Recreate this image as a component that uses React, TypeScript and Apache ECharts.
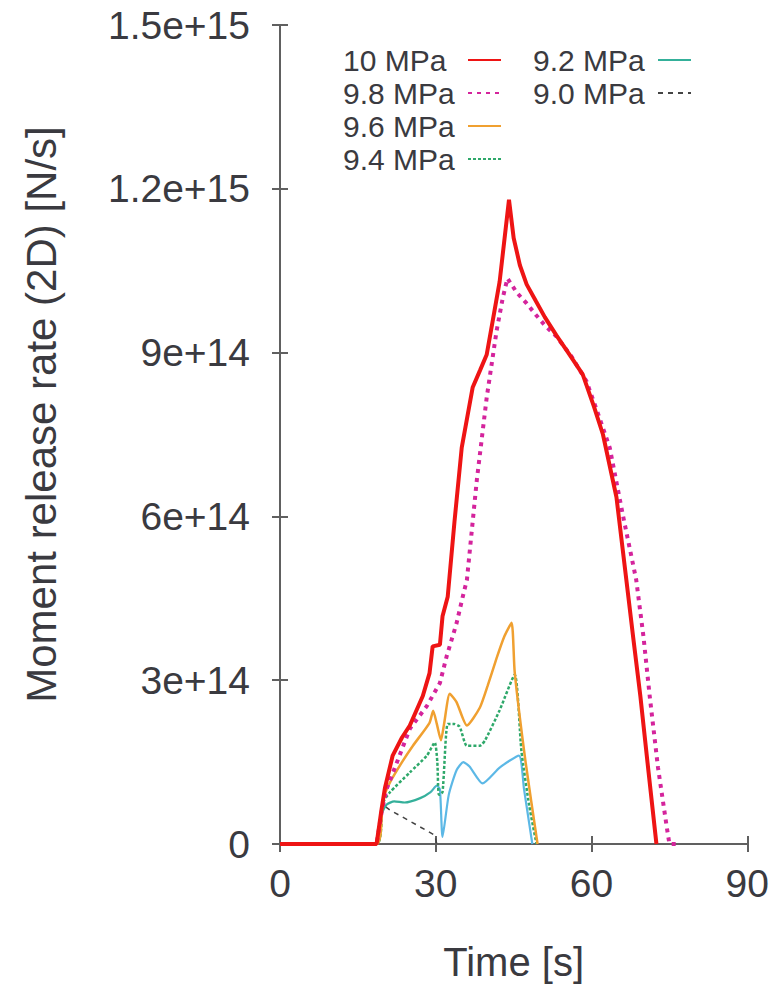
import React, { useEffect, useRef } from "react";
import * as echarts from "echarts";

// Time axis [s]
const xTickLabels = ["0", "30", "60", "90"];
// Moment release rate tick labels (values are multiples of 3e14)
const yTickLabels = ["0", "3e+14", "6e+14", "9e+14", "1.2e+15", "1.5e+15"];

const seriesNames = ["10 MPa", "9.8 MPa", "9.6 MPa", "9.4 MPa", "9.2 MPa", "9.0 MPa"];

// Values in units of 1e14 N/s
const t10 = [0, 18.6, 19.5, 20.2, 21.7, 23.5, 25, 27.5, 28.8, 29.4, 30.8, 31.3, 32.3, 33.6, 35, 37.1, 38.5, 39.8, 41, 42.3, 44.1, 45, 46.2, 47.5, 49.3, 51, 53.2, 55.5, 58.3, 60.5, 62.2, 64.8, 66.7, 68, 69.4, 71, 72.5];
const v10 = [0, 0, 0.6, 1.02, 1.62, 1.95, 2.17, 2.71, 3.13, 3.62, 3.65, 4.17, 4.53, 5.9, 7.26, 8.36, 8.67, 8.96, 9.6, 10.3, 11.8, 11.1, 10.6, 10.25, 9.94, 9.65, 9.32, 9.0, 8.6, 8.0, 7.5, 6.35, 4.84, 3.8, 2.71, 1.3, 0];

const t98 = [0, 18.6, 19.6, 20.5, 22.5, 25, 28.3, 30.8, 32.1, 34, 35.2, 36, 37.9, 39.8, 41.7, 42.9, 43.8, 45.6, 47.5, 49.3, 51, 53.2, 56, 59, 61, 63.5, 66, 68.6, 70, 71.2, 72.8, 74.5, 75, 77];
const v98 = [0, 0, 0.6, 1.0, 1.49, 2.11, 2.53, 2.95, 3.44, 4.04, 4.53, 4.84, 6.66, 8.17, 9.39, 10.0, 10.36, 10.1, 9.9, 9.69, 9.5, 9.3, 8.95, 8.48, 7.95, 7.26, 6.04, 4.84, 3.8, 2.71, 1.4, 0.3, 0, 0];

const t96 = [0, 18.6, 19.8, 21.2, 23.5, 25.6, 28.8, 29.5, 30.2, 31, 31.6, 32.7, 34, 36, 38.5, 40, 41.7, 43.2, 44.6, 45.2, 47.3, 49.6];
const v96 = [0, 0, 0.8, 1.13, 1.5, 1.8, 2.22, 2.44, 2.2, 1.9, 2.2, 2.75, 2.6, 2.17, 2.5, 2.9, 3.4, 3.8, 4.05, 3.15, 1.5, 0];

const t94 = [0, 18.6, 19.8, 21.2, 25, 28.3, 29.8, 30.3, 30.6, 31.3, 32.3, 33.5, 34.6, 36, 38.5, 39.5, 42.3, 45.2, 46.5, 48, 49.4];
const v94 = [0, 0, 0.75, 0.95, 1.31, 1.62, 1.86, 1.5, 0.9, 0.95, 2.2, 2.2, 2.15, 1.8, 1.8, 1.9, 2.45, 3.1, 1.7, 0.7, 0];

const t92 = [0, 18.6, 19.6, 20.5, 22, 24, 27, 29, 30.2, 30.8, 31.3, 32.5, 34, 35.3, 36.5, 39, 42.3, 46, 47, 48.6];
const v92 = [0, 0, 0.55, 0.72, 0.78, 0.76, 0.84, 0.95, 1.07, 1.0, 0.13, 0.9, 1.35, 1.5, 1.42, 1.11, 1.4, 1.62, 1.0, 0];

const t90 = [0, 18.6, 19.8, 21.2, 25, 29.8, 30.2];
const v90 = [0, 0, 0.72, 0.62, 0.42, 0.16, 0];

const UNIT = 1e14;
const toData = (t: number[], v: number[]) => t.map((x, i) => [x, v[i] * UNIT]);

export default function App() {
  const ref = useRef<HTMLDivElement>(null);

  useEffect(() => {
    if (!ref.current) return;
    const chart = echarts.init(ref.current, undefined, { renderer: "svg" });
    const textColor = "#3a3a40";
    const axisColor = "#606060";
    const font = "Liberation Sans, Arial, sans-serif";

    const grad92 = new echarts.graphic.LinearGradient(0, 0, 1, 0, [
      { offset: 0, color: "#34b09a" },
      { offset: 0.58, color: "#34b09a" },
      { offset: 0.64, color: "#5cb8e6" },
      { offset: 1, color: "#5cb8e6" },
    ]);

    const legendRich = {
      a: { width: 120, align: "left", fontSize: 30, lineHeight: 30, color: textColor, fontFamily: font },
    };

    const legendCommon = {
      orient: "vertical",
      align: "right",
      top: 45,
      padding: 0,
      itemWidth: 33,
      itemHeight: 14,
      itemGap: 3,
      selectedMode: false,
      itemStyle: { opacity: 0 },
      formatter: (n: string) => `{a|${n}}`,
      textStyle: { rich: legendRich },
    };

    const option: any = {
      animation: false,
      backgroundColor: "#ffffff",
      grid: { left: 280, right: 24, top: 25, bottom: 138, containLabel: false },
      legend: [
        {
          ...legendCommon,
          data: seriesNames.slice(0, 4).map((n) => ({ name: n })),
          left: 343,
        },
        {
          ...legendCommon,
          data: [
            { name: seriesNames[4], lineStyle: { color: "#34b09a" } },
            { name: seriesNames[5] },
          ],
          left: 533,
        },
      ],
      xAxis: [
        {
          type: "value",
          min: 0,
          max: 90,
          interval: 30,
          name: "Time [s]",
          nameLocation: "middle",
          nameGap: 98,
          nameTextStyle: { fontSize: 40, color: textColor, fontFamily: font },
          axisLine: { show: true, lineStyle: { color: axisColor, width: 2 } },
          axisTick: { show: true, inside: true, length: 8, lineStyle: { color: axisColor, width: 2 } },
          axisLabel: {
            margin: 20,
            fontSize: 39,
            color: textColor,
            fontFamily: font,
            formatter: (v: number) => xTickLabels[Math.round(v / 30)] ?? "",
          },
          splitLine: { show: false },
        },
        {
          type: "value",
          position: "top",
          min: 0,
          max: 90,
          interval: 30,
          axisLine: { show: true, lineStyle: { color: axisColor, width: 2 } },
          axisTick: { show: true, inside: true, length: 8, lineStyle: { color: axisColor, width: 2 } },
          axisLabel: { show: false },
          splitLine: { show: false },
        },
      ],
      yAxis: [
        {
          type: "value",
          min: 0,
          max: 1.5e15,
          interval: 3e14,
          name: "Moment release rate (2D) [N/s]",
          nameLocation: "middle",
          nameGap: 218,
          nameTextStyle: { fontSize: 42, color: textColor, fontFamily: font, padding: [0, 0, 0, 40] },
          axisLine: { show: true, lineStyle: { color: axisColor, width: 2 } },
          axisTick: { show: true, inside: true, length: 8, lineStyle: { color: axisColor, width: 2 } },
          axisLabel: {
            margin: 30,
            fontSize: 39,
            color: textColor,
            fontFamily: font,
            formatter: (v: number) => yTickLabels[Math.round(v / 3e14)] ?? "",
          },
          splitLine: { show: false },
        },
        {
          type: "value",
          position: "right",
          min: 0,
          max: 1.5e15,
          interval: 3e14,
          axisLine: { show: true, lineStyle: { color: axisColor, width: 2 } },
          axisTick: { show: true, inside: true, length: 8, lineStyle: { color: axisColor, width: 2 } },
          axisLabel: { show: false },
          splitLine: { show: false },
        },
      ],
      series: [
        {
          name: seriesNames[5],
          type: "line",
          data: toData(t90, v90),
          showSymbol: false,
          symbol: "none",
          z: 2,
          itemStyle: { color: "#444444" },
          lineStyle: { color: "#444444", width: 1.5, type: [5, 5] },
        },
        {
          name: seriesNames[4],
          type: "line",
          data: toData(t92, v92),
          showSymbol: false,
          symbol: "none",
          smooth: 0.2,
          z: 3,
          itemStyle: { color: "#34b09a" },
          lineStyle: { color: grad92, width: 2.2 },
        },
        {
          name: seriesNames[3],
          type: "line",
          data: toData(t94, v94),
          showSymbol: false,
          symbol: "none",
          smooth: 0.2,
          z: 4,
          itemStyle: { color: "#2ea86a" },
          lineStyle: { color: "#2ea86a", width: 2.5, type: [3, 2] },
        },
        {
          name: seriesNames[2],
          type: "line",
          data: toData(t96, v96),
          showSymbol: false,
          symbol: "none",
          smooth: 0.2,
          z: 5,
          itemStyle: { color: "#f0a030" },
          lineStyle: { color: "#f0a030", width: 2.5 },
        },
        {
          name: seriesNames[1],
          type: "line",
          data: toData(t98, v98),
          showSymbol: false,
          symbol: "none",
          z: 6,
          itemStyle: { color: "#d4249c" },
          lineStyle: { color: "#d4249c", width: 4, type: [4, 5] },
        },
        {
          name: seriesNames[0],
          type: "line",
          data: toData(t10, v10),
          showSymbol: false,
          symbol: "none",
          z: 7,
          itemStyle: { color: "#ee1414" },
          lineStyle: { color: "#ee1414", width: 4 },
        },
      ],
    };
    chart.setOption(option);
    return () => chart.dispose();
  }, []);

  return (
    <div
      ref={ref}
      style={{ position: "fixed", left: 0, top: 0, width: 772, height: 987, background: "#fff" }}
    />
  );
}
